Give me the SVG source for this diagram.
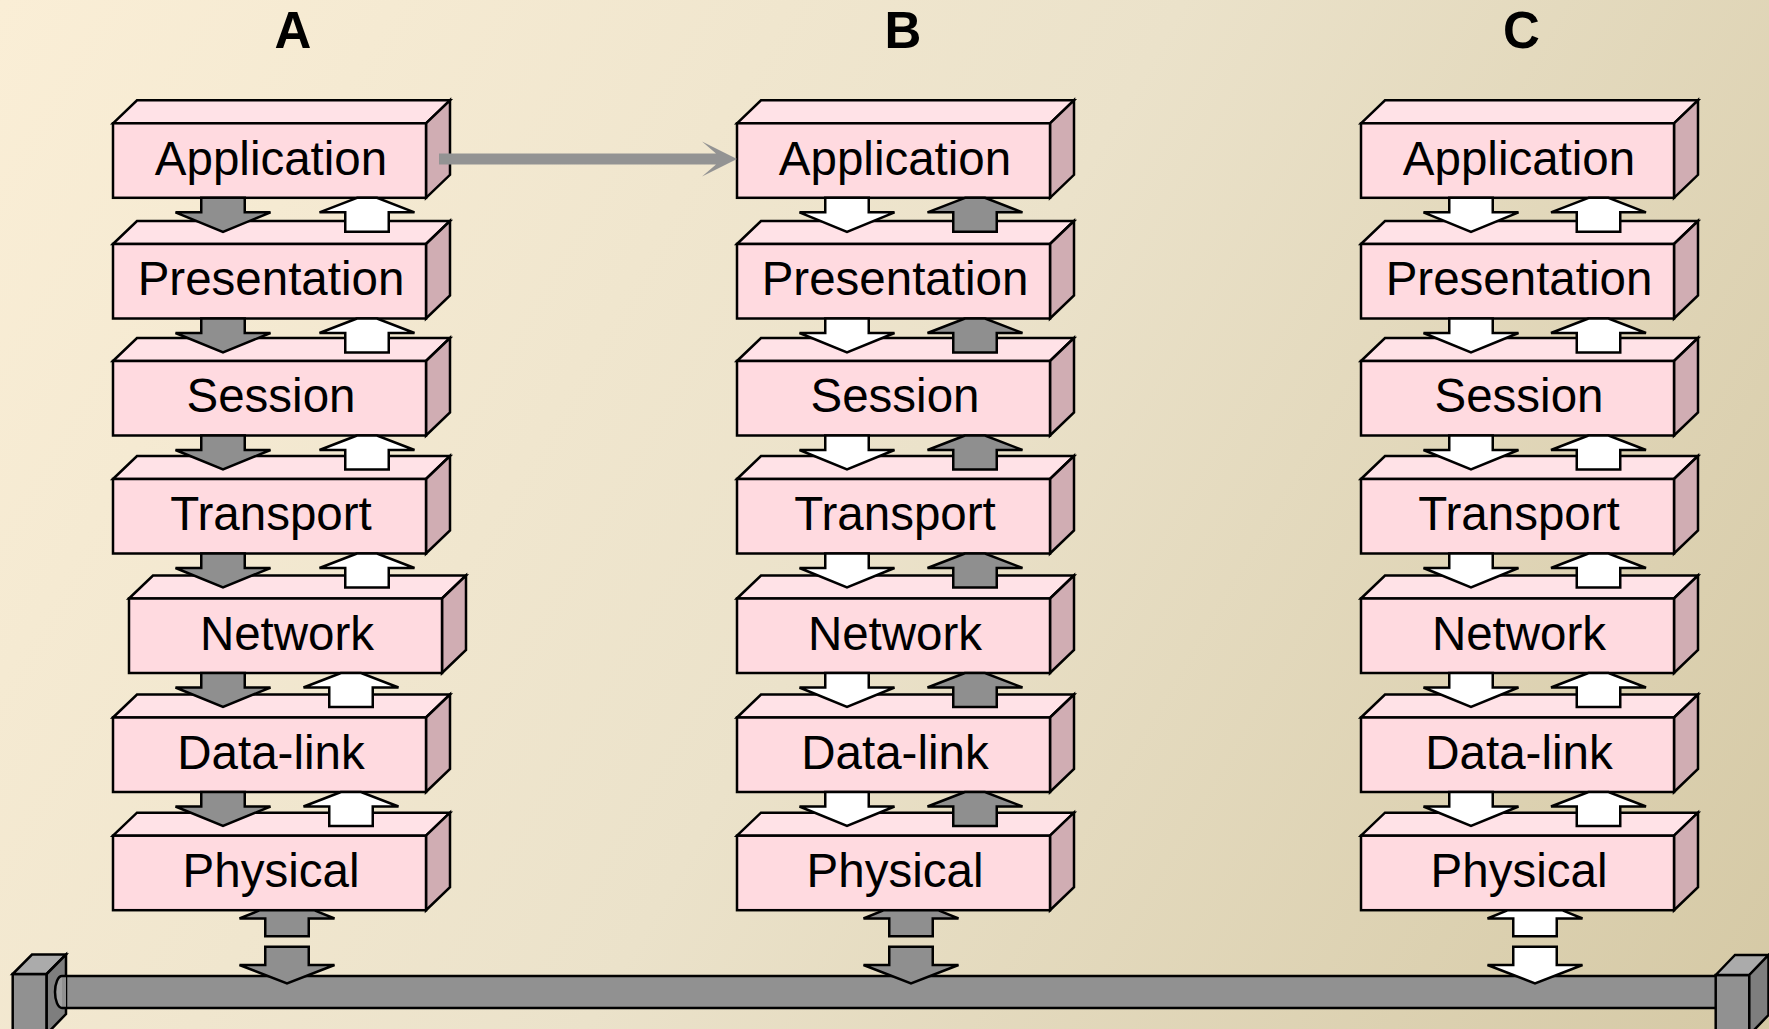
<svg xmlns="http://www.w3.org/2000/svg" xmlns:xlink="http://www.w3.org/1999/xlink" width="1769" height="1029" viewBox="0 0 1769 1029">
  <style>
    .lbl { font-family: "Liberation Sans", Arial, Helvetica, sans-serif; font-size: 47.5px; text-anchor: middle; fill: #000; }
    .ttl { font-family: "Liberation Sans", Arial, Helvetica, sans-serif; font-size: 51px; font-weight: bold; text-anchor: middle; fill: #000; }
    .edge { stroke: #000; stroke-width: 2.5; stroke-linejoin: miter; }
    .front { fill: #FFDAE0; }
    .top { fill: #FFE2E7; }
    .side { fill: #D0ADB3; }
    .gray { fill: #8F8F8F; }
    .white { fill: #FFFFFF; }
    .pipe { fill: #919191; }
    .capTop { fill: #ABABAB; }
    .capSide { fill: #7E7E7E; }
  </style>
  <defs>
    <linearGradient id="bg" gradientUnits="userSpaceOnUse" x1="0" y1="0" x2="1769" y2="1029">
      <stop offset="0" stop-color="#FAEED6"/>
      <stop offset="0.5" stop-color="#EBE2CA"/>
      <stop offset="1" stop-color="#D5C9A5"/>
    </linearGradient>
    <!-- layer slab: front face origin at top-left corner -->
    <g id="slab">
      <polygon class="top edge" points="0,0 24,-23 337,-23 313,0"/>
      <polygon class="side edge" points="313,0 337,-23 337,51.5 313,74.5"/>
      <rect class="front edge" x="0" y="0" width="313" height="74.5"/>
    </g>
    <!-- block arrows, origin at top centre -->
    <path id="dn" d="M-21.75,0 V14.5 H-47.5 L0,34 L47.5,14.5 H21.75 V0 Z"/>
    <path id="up" d="M-10,0 L-47.5,14.5 H-21.75 V34 H21.75 V14.5 H47.5 L10,0 Z"/>
    <path id="busUp" d="M-27,0 L-47.5,8.3 H-21.75 V26 H21.75 V8.3 H47.5 L27,0 Z"/>
    <path id="busDn" d="M-21.75,0 V18.3 H-47.5 L0,36.6 L47.5,18.3 H21.75 V0 Z"/>
  </defs>

  <rect x="0" y="0" width="1769" height="1029" fill="url(#bg)"/>

  <!-- column titles -->
  <g id="titles">
    <text class="ttl" x="293" y="47.5">A</text>
    <text class="ttl" x="903" y="47.5">B</text>
    <text class="ttl" x="1521.5" y="47.5">C</text>
  </g>

  <!-- shared medium -->
  <g id="bus">
    <rect class="pipe" x="60" y="976" width="1660" height="32"/>
    <path class="edge" d="M60,976 H1716 M60,1008 H1716" fill="none"/>
    <g id="bus-cap-left">
      <rect class="pipe edge" x="12.7" y="974" width="34" height="60"/>
      <polygon class="capTop edge" points="12.7,974 32,954.5 66,954.5 46.7,974"/>
      <polygon class="capSide edge" points="46.7,974 66,954.5 66,1014 46.7,1034"/>
      <path d="M62,976 A7,16 0 0 0 62,1008 H66 V976 Z" class="pipe"/>
      <path d="M62,976 A7,16 0 0 0 62,1008" class="edge" fill="#A2A2A2"/>
      <path class="edge" d="M62,976 H66 M62,1008 H66" fill="none"/>
    </g>
    <g id="bus-cap-right">
      <rect class="pipe edge" x="1715.7" y="975" width="33.6" height="60"/>
      <polygon class="capTop edge" points="1715.7,975 1735,955 1768.5,955 1749.3,975"/>
      <polygon class="capSide edge" points="1749.3,975 1768.5,955 1768.5,1015 1749.3,1035"/>
    </g>
  </g>

  <!-- stack A -->
  <g id="stack-a">
    <g id="a-application" transform="translate(113,123.3)"><use xlink:href="#slab"/><text class="lbl" x="158" y="52">Application</text></g>
    <g id="a-presentation" transform="translate(113,244)"><use xlink:href="#slab"/><text class="lbl" x="158" y="51">Presentation</text></g>
    <g id="a-session" transform="translate(113,361)"><use xlink:href="#slab"/><text class="lbl" x="158" y="51">Session</text></g>
    <g id="a-transport" transform="translate(113,479)"><use xlink:href="#slab"/><text class="lbl" x="158" y="51">Transport</text></g>
    <g id="a-network" transform="translate(129,598.5)"><use xlink:href="#slab"/><text class="lbl" x="158" y="51">Network</text></g>
    <g id="a-datalink" transform="translate(113,717.5)"><use xlink:href="#slab"/><text class="lbl" x="158" y="51">Data-link</text></g>
    <g id="a-physical" transform="translate(113,835.7)"><use xlink:href="#slab"/><text class="lbl" x="158" y="51">Physical</text></g>
  </g>

  <!-- stack B -->
  <g id="stack-b">
    <g id="b-application" transform="translate(737,123.3)"><use xlink:href="#slab"/><text class="lbl" x="158" y="52">Application</text></g>
    <g id="b-presentation" transform="translate(737,244)"><use xlink:href="#slab"/><text class="lbl" x="158" y="51">Presentation</text></g>
    <g id="b-session" transform="translate(737,361)"><use xlink:href="#slab"/><text class="lbl" x="158" y="51">Session</text></g>
    <g id="b-transport" transform="translate(737,479)"><use xlink:href="#slab"/><text class="lbl" x="158" y="51">Transport</text></g>
    <g id="b-network" transform="translate(737,598.5)"><use xlink:href="#slab"/><text class="lbl" x="158" y="51">Network</text></g>
    <g id="b-datalink" transform="translate(737,717.5)"><use xlink:href="#slab"/><text class="lbl" x="158" y="51">Data-link</text></g>
    <g id="b-physical" transform="translate(737,835.7)"><use xlink:href="#slab"/><text class="lbl" x="158" y="51">Physical</text></g>
  </g>

  <!-- stack C -->
  <g id="stack-c">
    <g id="c-application" transform="translate(1361,123.3)"><use xlink:href="#slab"/><text class="lbl" x="158" y="52">Application</text></g>
    <g id="c-presentation" transform="translate(1361,244)"><use xlink:href="#slab"/><text class="lbl" x="158" y="51">Presentation</text></g>
    <g id="c-session" transform="translate(1361,361)"><use xlink:href="#slab"/><text class="lbl" x="158" y="51">Session</text></g>
    <g id="c-transport" transform="translate(1361,479)"><use xlink:href="#slab"/><text class="lbl" x="158" y="51">Transport</text></g>
    <g id="c-network" transform="translate(1361,598.5)"><use xlink:href="#slab"/><text class="lbl" x="158" y="51">Network</text></g>
    <g id="c-datalink" transform="translate(1361,717.5)"><use xlink:href="#slab"/><text class="lbl" x="158" y="51">Data-link</text></g>
    <g id="c-physical" transform="translate(1361,835.7)"><use xlink:href="#slab"/><text class="lbl" x="158" y="51">Physical</text></g>
  </g>

  <!-- connectors -->
  <g id="connectors">
    <!-- peer link between the application layers -->
    <polygon fill="#939393" points="439,153.5 716,153.5 702,141.5 737,159 702,176.5 716,164.5 439,164.5"/>

    <!-- stack A: down gray, up white -->
    <g class="edge">
      <use xlink:href="#dn" class="gray" x="223" y="197.8"/>
      <use xlink:href="#dn" class="gray" x="223" y="318.5"/>
      <use xlink:href="#dn" class="gray" x="223" y="435.5"/>
      <use xlink:href="#dn" class="gray" x="223" y="553.5"/>
      <use xlink:href="#dn" class="gray" x="223" y="673"/>
      <use xlink:href="#dn" class="gray" x="223" y="792"/>
      <use xlink:href="#up" class="white" x="367" y="197.8"/>
      <use xlink:href="#up" class="white" x="367" y="318.5"/>
      <use xlink:href="#up" class="white" x="367" y="435.5"/>
      <use xlink:href="#up" class="white" x="367" y="553.5"/>
      <use xlink:href="#up" class="white" x="351" y="673"/>
      <use xlink:href="#up" class="white" x="351" y="792"/>
      <use xlink:href="#busUp" class="gray" x="287" y="910.2"/>
      <use xlink:href="#busDn" class="gray" x="287" y="946.7"/>
    </g>

    <!-- stack B: down white, up gray -->
    <g class="edge">
      <use xlink:href="#dn" class="white" x="847" y="197.8"/>
      <use xlink:href="#dn" class="white" x="847" y="318.5"/>
      <use xlink:href="#dn" class="white" x="847" y="435.5"/>
      <use xlink:href="#dn" class="white" x="847" y="553.5"/>
      <use xlink:href="#dn" class="white" x="847" y="673"/>
      <use xlink:href="#dn" class="white" x="847" y="792"/>
      <use xlink:href="#up" class="gray" x="975" y="197.8"/>
      <use xlink:href="#up" class="gray" x="975" y="318.5"/>
      <use xlink:href="#up" class="gray" x="975" y="435.5"/>
      <use xlink:href="#up" class="gray" x="975" y="553.5"/>
      <use xlink:href="#up" class="gray" x="975" y="673"/>
      <use xlink:href="#up" class="gray" x="975" y="792"/>
      <use xlink:href="#busUp" class="gray" x="911" y="910.2"/>
      <use xlink:href="#busDn" class="gray" x="911" y="946.7"/>
    </g>

    <!-- stack C: all white -->
    <g class="edge">
      <use xlink:href="#dn" class="white" x="1471" y="197.8"/>
      <use xlink:href="#dn" class="white" x="1471" y="318.5"/>
      <use xlink:href="#dn" class="white" x="1471" y="435.5"/>
      <use xlink:href="#dn" class="white" x="1471" y="553.5"/>
      <use xlink:href="#dn" class="white" x="1471" y="673"/>
      <use xlink:href="#dn" class="white" x="1471" y="792"/>
      <use xlink:href="#up" class="white" x="1598.5" y="197.8"/>
      <use xlink:href="#up" class="white" x="1598.5" y="318.5"/>
      <use xlink:href="#up" class="white" x="1598.5" y="435.5"/>
      <use xlink:href="#up" class="white" x="1598.5" y="553.5"/>
      <use xlink:href="#up" class="white" x="1598.5" y="673"/>
      <use xlink:href="#up" class="white" x="1598.5" y="792"/>
      <use xlink:href="#busUp" class="white" x="1535" y="910.2"/>
      <use xlink:href="#busDn" class="white" x="1535" y="946.7"/>
    </g>
  </g>
</svg>
